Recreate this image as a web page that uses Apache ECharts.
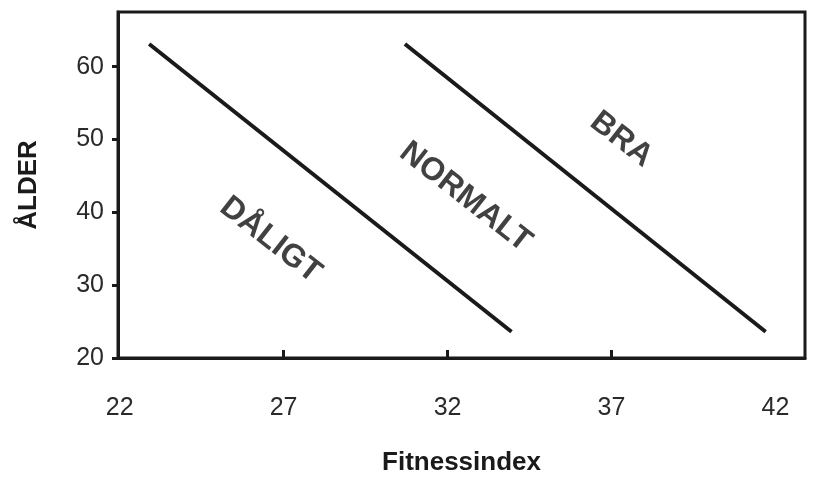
<!DOCTYPE html>
<html>
<head>
<meta charset="utf-8">
<script src="https://cdn.jsdelivr.net/npm/echarts@6/dist/echarts.min.js"></script>
<style>html,body{margin:0;background:#fff}#c{width:823px;height:481px}</style>
</head>
<body>
<div id="c"></div>
<script>
const xTicks = [22, 27, 32, 37, 42]
const yTicks = [20, 30, 40, 50, 60]
const lowerLine = [[22.9, 63.1], [33.95, 23.6]]
const upperLine = [[30.7, 63.1], [41.7, 23.6]]
const zoneNames = ['DÅLIGT', 'NORMALT', 'BRA']
const zonePos = [[26.6, 36.2], [32.55, 42.1], [37.3, 50]]

const chart = echarts.init(document.getElementById('c'))
const lineStyle = { color: '#1a1a1a', width: 4 }
chart.setOption({
  animation: false,
  grid: { left: 118, right: 18, top: 12, bottom: 122, show: true, borderColor: '#1a1a1a', borderWidth: 3 },
  xAxis: {
    type: 'value', min: 21.95, max: 42.9,
    name: 'Fitnessindex', nameLocation: 'middle', nameGap: 92,
    nameTextStyle: { fontFamily: 'Liberation Sans', fontWeight: 'bold', fontSize: 26, color: '#1a1a1a' },
    axisLine: { lineStyle: { color: '#1a1a1a', width: 3 } },
    axisTick: { inside: true, length: 8, lineStyle: { color: '#1a1a1a', width: 3 }, customValues: [27, 32, 37] },
    axisLabel: { customValues: xTicks, margin: 38, fontFamily: 'Liberation Sans', fontSize: 25, color: '#2a2a2a' },
    splitLine: { show: false }
  },
  yAxis: {
    type: 'value', min: 20, max: 67.5,
    name: 'ÅLDER', nameLocation: 'middle', nameGap: 76, nameRotate: 90,
    nameTextStyle: { fontFamily: 'Liberation Sans', fontWeight: 'bold', fontSize: 26, color: '#1a1a1a' },
    axisLine: { lineStyle: { color: '#1a1a1a', width: 3 } },
    axisTick: { length: 6, lineStyle: { color: '#1a1a1a', width: 3 }, customValues: yTicks },
    axisLabel: { customValues: yTicks, margin: 14, fontFamily: 'Liberation Sans', fontSize: 25, color: '#2a2a2a' },
    splitLine: { show: false }
  },
  series: [
    { type: 'line', data: lowerLine, symbol: 'none', lineStyle },
    { type: 'line', data: upperLine, symbol: 'none', lineStyle },
    {
      type: 'scatter', symbolSize: 0,
      data: zonePos.map((p, i) => ({ value: p, name: zoneNames[i] })),
      label: {
        show: true, position: 'inside', formatter: '{b}', rotate: -38,
        fontFamily: 'Liberation Sans', fontWeight: 'bold', fontSize: 32, color: '#111'
      }
    }
  ]
})
</script>
</body>
</html>
